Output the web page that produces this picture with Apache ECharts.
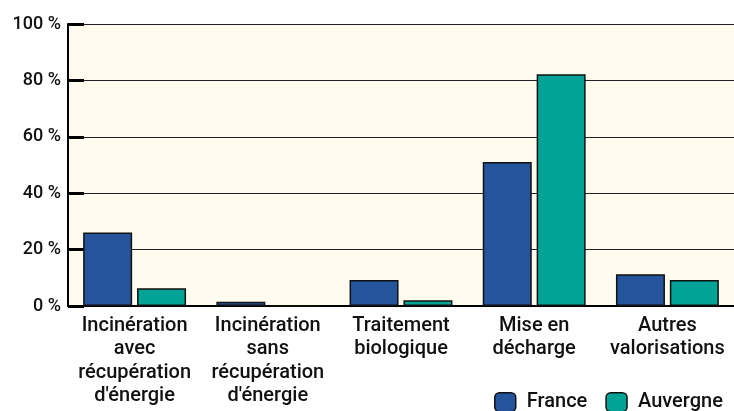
<!DOCTYPE html>
<html><head><meta charset="utf-8">
<script src="https://cdn.jsdelivr.net/npm/echarts@6/dist/echarts.min.js"></script>
<style>html,body{margin:0;padding:0;background:#fff}#c{width:734px;height:411px}</style>
</head><body><div id="c"></div>
<script>
const categories = ["Incinération\navec\nrécupération\nd'énergie", "Incinération\nsans\nrécupération\nd'énergie", "Traitement\nbiologique", "Mise en\ndécharge", "Autres\nvalorisations"];
const france = [26.1, 1.5, 9.2, 51.1, 11.3];
const auvergne = [6.3, 0, 2.0, 82.2, 9.2];
const yTicks = [0, 20, 40, 60, 80, 100];

const FONT = 'Roboto';
const chart = echarts.init(document.getElementById('c'), null, {renderer: 'canvas'});
chart.setOption({
  animation: false,
  textStyle: {fontFamily: FONT},
  grid: {left: 68, top: 24, right: -6, bottom: 105, show: true, backgroundColor: '#FFFBEE', borderWidth: 0},
  legend: {
    top: 392, left: 494, padding: 0, itemWidth: 21, itemHeight: 19, itemGap: 18,
    textStyle: {fontSize: 20, fontWeight: 500, color: '#111', fontFamily: FONT, padding: [0,0,0,6]},
    itemStyle: {borderColor: '#111', borderWidth: 1.5},
    data: ['France', 'Auvergne']
  },
  xAxis: {
    type: 'category', data: categories,
    axisLine: {lineStyle: {color: '#000', width: 2}},
    axisTick: {inside: true, length: 5, lineStyle: {color: '#000', width: 2}},
    axisLabel: {interval: 0, fontSize: 20, fontWeight: 500, color: '#111', lineHeight: 23.5, margin: 8, fontFamily: FONT}
  },
  yAxis: {
    type: 'value', min: yTicks[0], max: yTicks[yTicks.length-1], interval: 20,
    axisLine: {show: true, lineStyle: {color: '#000', width: 2}},
    axisTick: {show: true, inside: true, length: 16, lineStyle: {color: '#000', width: 3}},
    splitLine: {lineStyle: {color: '#222', width: 1}},
    axisLabel: {formatter: '{value} %', fontSize: 18, fontWeight: 500, color: '#111', margin: 7, fontFamily: FONT}
  },
  series: [
    {name: 'France', type: 'bar', data: france, barWidth: 49, barGap: '10%',
     itemStyle: {color: '#25539C', borderColor: '#111', borderWidth: 1.5}},
    {name: 'Auvergne', type: 'bar', data: auvergne, barWidth: 49,
     itemStyle: {color: '#00A396', borderColor: '#111', borderWidth: 1.5}}
  ]
});
</script></body></html>
